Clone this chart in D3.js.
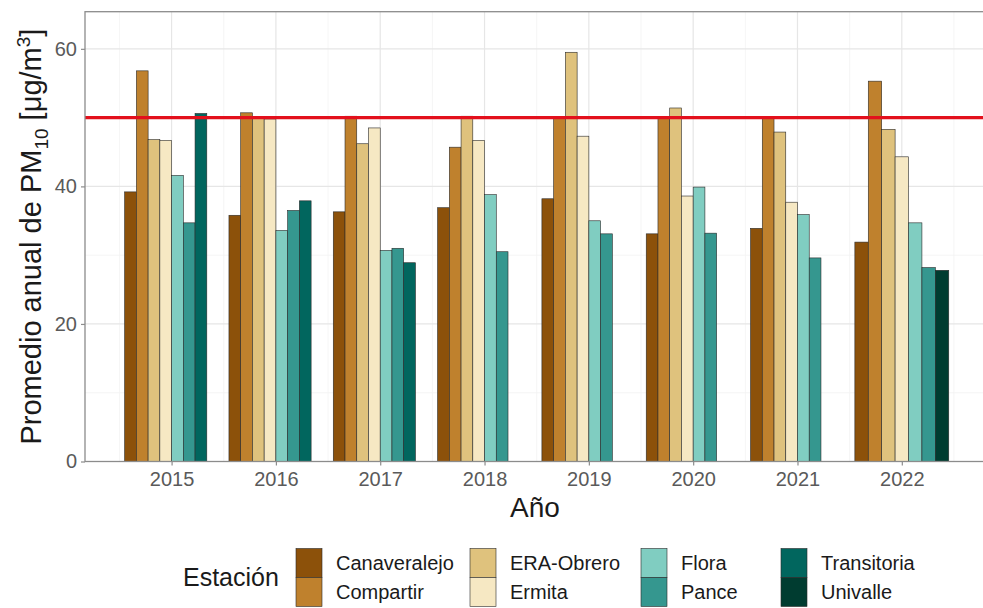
<!DOCTYPE html>
<html>
<head>
<meta charset="utf-8">
<script src="https://cdn.jsdelivr.net/npm/d3@7"></script>
<style>
  body { margin: 0; background: #fff; }
  svg { font-family: "Liberation Sans", Arial, sans-serif; }
</style>
</head>
<body>
<div id="chart"></div>
<script>
// Datos: promedio anual de PM10 por estación
const years = [2015, 2016, 2017, 2018, 2019, 2020, 2021, 2022];
const stations = ['Canaveralejo', 'Compartir', 'ERA-Obrero', 'Ermita', 'Flora', 'Pance', 'Transitoria', 'Univalle'];
const colors = ['#8c510a', '#bf812d', '#dfc27d', '#f6e8c3', '#80cdc1', '#35978f', '#01665e', '#003c30'];

// NaN = fila sin valor (ocupa su hueco), null = la estación no aparece ese año
const canaveralejo = [39.2, 35.8, 36.3, 36.9, 38.2, 33.1, 33.9, 31.9];
const compartir    = [56.8, 50.7, 50.2, 45.7, 50.1, 50.0, 50.0, 55.3];
const eraObrero    = [46.8, 49.9, 46.2, 50.2, 59.5, 51.4, 47.9, 48.3];
const ermita       = [46.7, 49.8, 48.5, 46.7, 47.3, 38.6, 37.7, 44.3];
const flora        = [41.6, 33.6, 30.7, 38.8, 35.0, 39.9, 35.9, 34.7];
const pance        = [34.7, 36.5, 31.0, 30.5, 33.1, 33.2, 29.6, 28.2];
const transitoria  = [50.6, 37.9, 28.9, NaN, NaN, NaN, NaN, null];
const univalle     = [NaN, NaN, NaN, NaN, NaN, NaN, NaN, 27.8];
const series = [canaveralejo, compartir, eraObrero, ermita, flora, pance, transitoria, univalle];

const yTicks = [0, 20, 40, 60];
const yMinor = [10, 30, 50];
const limit = 50; // norma anual

const width = 983, height = 608;
const panel = { left: 85, top: 11.7, right: 991, bottom: 461.5 };

const svg = d3.select('#chart').append('svg')
    .attr('width', width)
    .attr('height', height);

const x = d3.scaleLinear()
    .domain([2014.17, 2022.855])
    .range([panel.left, panel.right]);

const y = d3.scaleLinear()
    .domain([0, 65.4])
    .range([panel.bottom, panel.top]);

const plot = svg.append('g');

// rejilla menor y mayor
const xMinor = years.map(d => d - 0.5).concat([years[years.length - 1] + 0.5]);
plot.selectAll('line.ymin').data(yMinor).join('line')
    .attr('x1', panel.left).attr('x2', panel.right)
    .attr('y1', d => y(d)).attr('y2', d => y(d))
    .attr('stroke', '#f3f3f3').attr('stroke-width', 0.8);
plot.selectAll('line.xmin').data(xMinor).join('line')
    .attr('y1', panel.top).attr('y2', panel.bottom)
    .attr('x1', d => x(d)).attr('x2', d => x(d))
    .attr('stroke', '#f3f3f3').attr('stroke-width', 0.8);
plot.selectAll('line.ymaj').data(yTicks).join('line')
    .attr('x1', panel.left).attr('x2', panel.right)
    .attr('y1', d => y(d)).attr('y2', d => y(d))
    .attr('stroke', '#e6e6e6').attr('stroke-width', 1.2);
plot.selectAll('line.xmaj').data(years).join('line')
    .attr('y1', panel.top).attr('y2', panel.bottom)
    .attr('x1', d => x(d)).attr('x2', d => x(d))
    .attr('stroke', '#e6e6e6').attr('stroke-width', 1.2);

// barras con dodge: el ancho depende de las filas presentes en cada año
years.forEach((year, i) => {
    const rows = stations.map((s, k) => ({ s, k, v: series[k][i] })).filter(r => r.v !== null);
    const n = rows.length;
    rows.forEach((r, j) => {
        if (isNaN(r.v)) return;
        const x0 = x(year - 0.45 + 0.9 * j / n);
        const x1 = x(year - 0.45 + 0.9 * (j + 1) / n);
        plot.append('rect')
            .attr('x', x0)
            .attr('y', y(r.v))
            .attr('width', x1 - x0)
            .attr('height', y(0) - y(r.v))
            .attr('fill', colors[r.k])
            .attr('stroke', '#2a2a2a')
            .attr('stroke-width', 0.6);
    });
});

// línea de la norma
plot.append('line')
    .attr('x1', panel.left).attr('x2', panel.right)
    .attr('y1', y(limit)).attr('y2', y(limit))
    .attr('stroke', '#e3101c')
    .attr('stroke-width', 3.4);

// borde del panel
plot.append('rect')
    .attr('x', panel.left).attr('y', panel.top)
    .attr('width', panel.right - panel.left)
    .attr('height', panel.bottom - panel.top)
    .attr('fill', 'none')
    .attr('stroke', '#8c8c8c')
    .attr('stroke-width', 1.3);

// ejes
const yAxis = svg.append('g')
    .attr('transform', `translate(${panel.left},0)`)
    .call(d3.axisLeft(y).tickValues(yTicks).tickSize(4).tickPadding(4));
const xAxis = svg.append('g')
    .attr('transform', `translate(0,${panel.bottom})`)
    .call(d3.axisBottom(x).tickValues(years).tickFormat(d3.format('d')).tickSize(4).tickPadding(6));
[yAxis, xAxis].forEach(g => {
    g.select('.domain').remove();
    g.selectAll('.tick line').attr('stroke', '#8c8c8c').attr('stroke-width', 1.2);
    g.selectAll('.tick text')
        .attr('fill', '#5a5a5a')
        .style('font-size', '20px')
        .style('font-family', '"Liberation Sans", Arial, sans-serif');
});

// títulos
svg.append('text')
    .attr('x', (panel.left + 985) / 2)
    .attr('y', 517)
    .attr('text-anchor', 'middle')
    .style('font-size', '28px')
    .attr('fill', '#1a1a1a')
    .text('Año');

const yTitle = svg.append('text')
    .attr('transform', `translate(41,${(panel.top + panel.bottom) / 2}) rotate(-90)`)
    .attr('text-anchor', 'middle')
    .style('font-size', '29px')
    .attr('fill', '#1a1a1a');
yTitle.append('tspan').text('Promedio anual de PM');
yTitle.append('tspan').attr('dy', 7).style('font-size', '19px').text('10');
yTitle.append('tspan').attr('dy', -7).text(' [μg/m');
yTitle.append('tspan').attr('dy', -11).style('font-size', '19px').text('3');
yTitle.append('tspan').attr('dy', 11).text(']');

// leyenda
const legend = svg.append('g');
legend.append('text')
    .attr('x', 183)
    .attr('y', 586)
    .style('font-size', '25px')
    .attr('fill', '#1a1a1a')
    .text('Estación');

const keyX = [296, 470, 641, 781];
const keyW = 26, keyH = 29, keyTop = 548.5;
stations.forEach((s, k) => {
    const col = Math.floor(k / 2), row = k % 2;
    legend.append('rect')
        .attr('x', keyX[col])
        .attr('y', keyTop + row * keyH)
        .attr('width', keyW)
        .attr('height', keyH)
        .attr('fill', colors[k])
        .attr('stroke', '#2a2a2a')
        .attr('stroke-width', 0.6);
    legend.append('text')
        .attr('x', keyX[col] + keyW + 14)
        .attr('y', keyTop + row * keyH + keyH / 2)
        .attr('dy', '0.35em')
        .style('font-size', '20px')
        .attr('fill', '#1a1a1a')
        .text(s);
});
</script>
</body>
</html>
